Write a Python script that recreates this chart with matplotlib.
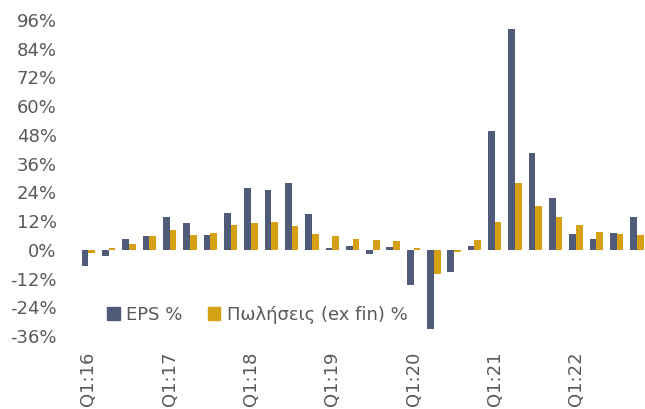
import numpy as np
import matplotlib.pyplot as plt
from matplotlib.patches import Patch
from matplotlib.ticker import FuncFormatter

# Quarters Q1:16 .. Q4:22
quarters = [f'Q{q}:{y}' for y in range(16, 23) for q in range(1, 5)]
eps = [-6.8, -2.6, 4.4, 5.8, 13.8, 11.3, 6.2, 15.4,
       25.9, 25.0, 27.8, 15.1, 0.9, 1.6, -1.8, 1.3,
       -14.7, -33.2, -9.1, 1.7, 49.7, 92.4, 40.4, 21.8,
       6.5, 4.5, 7.0, 13.8]
sales = [-1.5, 0.9, 2.4, 5.8, 8.1, 6.2, 6.9, 10.4,
         11.2, 11.6, 10.1, 6.7, 5.8, 4.5, 4.0, 3.7,
         0.6, -10.2, -0.8, 4.0, 11.7, 27.9, 18.3, 13.6,
         10.4, 7.4, 6.5, 6.1]
labels = ['EPS %', 'Πωλήσεις (ex fin) %']
yticks = np.arange(-36, 97, 12)

plt.rcParams.update({'font.family': ['DejaVu Sans'], 'font.size': 13,
                     'text.color': '#595959'})
c_eps = '#4F5B78'
c_sales = '#D5A013'

fig = plt.figure(figsize=(6.45, 4.09), dpi=100)
ax = fig.add_axes([78.2 / 645, 73 / 409, 569 / 645, 316 / 409])

x = np.arange(len(quarters))
w = 0.33
ax.bar(x - w / 2, eps, w, color=c_eps, zorder=2)
ax.bar(x + w / 2, sales, w, color=c_sales, zorder=2)

ax.set_xlim(-0.5, len(quarters) - 0.5)
ax.set_ylim(-36, 96)
ax.set_yticks(yticks)
ax.yaxis.set_major_formatter(FuncFormatter(lambda v, p: f'{v:.0f}%'))
ax.set_xticks(x[::4])
ax.set_xticklabels(quarters[::4], rotation=90, va='top', ha='center')
ax.tick_params(axis='x', length=0, pad=11, labelcolor='#595959')
ax.tick_params(axis='y', length=0, pad=15.5, labelcolor='#595959')
for s in ax.spines.values():
    s.set_visible(False)

handles = [Patch(color=c_eps), Patch(color=c_sales)]
fig.legend(handles, labels, loc='center left', bbox_to_anchor=(107 / 645, 1 - 315 / 409),
           ncols=2, frameon=False, handlelength=0.7, handleheight=0.7,
           handletextpad=0.35, columnspacing=1.4, borderpad=0, borderaxespad=0,
           labelcolor='#595959')

fig.savefig('out.png', dpi=100)
